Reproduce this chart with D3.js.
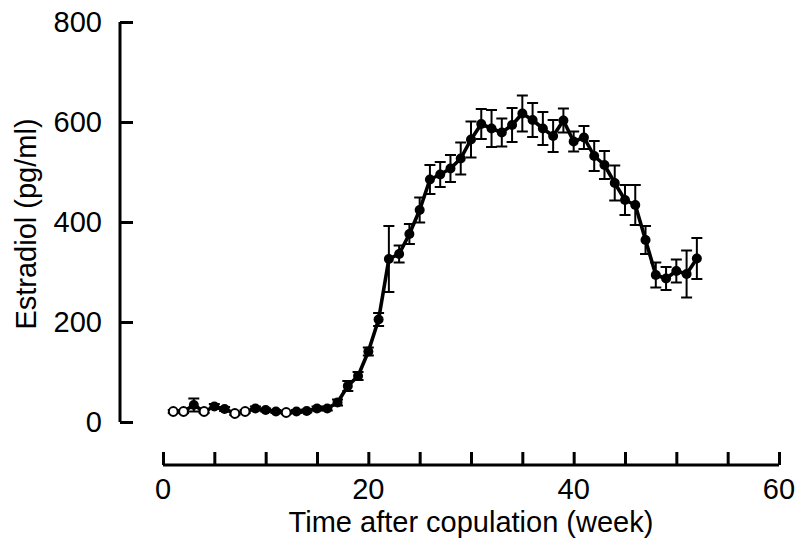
<!DOCTYPE html>
<html>
<head>
<meta charset="utf-8">
<script src="https://cdn.jsdelivr.net/npm/d3@7"></script>
<style>
  body { margin: 0; background: #fff; }
  text { font-family: "Liberation Sans", Arial, sans-serif; fill: #000; }
</style>
</head>
<body>
<div class="container"></div>
<script>
// weeks after copulation
var weeks = [1,2,3,4,5,6,7,8,9,10,11,12,13,14,15,16,17,18,19,20,21,22,23,24,25,26,
             27,28,29,30,31,32,33,34,35,36,37,38,39,40,41,42,43,44,45,46,47,48,49,50,51,52];
// estradiol mean (pg/ml)
var estradiol = [21,21,34,21,31,26,17,21,27,24,21,19,21,22,27,27,39,72,92,141,205,326,336,376,424,485,
                 495,507,527,565,596,587,579,594,617,604,587,572,603,561,569,532,514,478,444,434,364,294,287,302,296,327];
// error (half bar)
var errors = [3,3,13,3,5,4,3,3,4,3,3,3,3,3,4,4,6,10,8,8,13,66,17,20,25,29,
              25,27,32,36,30,37,28,34,36,34,33,32,24,20,23,30,28,35,30,40,28,25,23,23,47,41];
// weeks drawn as open circles
var openWeeks = [1,2,4,7,8,12];

var xTicks = [0,5,10,15,20,25,30,35,40,45,50,55,60];
var xLabels = [0,20,40,60];
var yTicks = [0,200,400,600,800];

const WIDTH = 804;
const HEIGHT = 549;

var data = weeks.map(function (w, i) {
    return {week: w, value: estradiol[i], err: errors[i], open: openWeeks.indexOf(w) >= 0};
});

var svg = d3.select('.container').append('svg')
    .attr('width', WIDTH)
    .attr('height', HEIGHT);

var xScale = d3.scaleLinear().domain([0, 60]).range([163, 779]);
var yScale = d3.scaleLinear().domain([0, 800]).range([422, 22]);

var AXIS_X = 120;   // y axis position
var AXIS_Y = 465;   // x axis position

// y axis
var yAxis = svg.append('g').attr('transform', 'translate(' + AXIS_X + ',0)')
    .call(d3.axisRight(yScale).tickValues(yTicks).tickSize(13).tickFormat(''));
yAxis.select('.domain').attr('d', 'M0,' + yScale(800) + 'V' + yScale(0))
    .attr('stroke', '#000').attr('stroke-width', 3);
yAxis.selectAll('.tick line').attr('stroke', '#000').attr('stroke-width', 3);

svg.selectAll('.ylab').data(yTicks).enter().append('text')
    .attr('class', 'ylab')
    .attr('x', 102)
    .attr('y', function (d) { return yScale(d); })
    .attr('dy', '0.36em')
    .attr('text-anchor', 'end')
    .style('font-size', '29px')
    .text(function (d) { return d; });

// x axis
var xAxis = svg.append('g').attr('transform', 'translate(0,' + AXIS_Y + ')')
    .call(d3.axisTop(xScale).tickValues(xTicks).tickSize(13).tickFormat(''));
xAxis.select('.domain').attr('d', 'M' + xScale(0) + ',0H' + xScale(60))
    .attr('stroke', '#000').attr('stroke-width', 3);
xAxis.selectAll('.tick line').attr('stroke', '#000').attr('stroke-width', 3);

svg.selectAll('.xlab').data(xLabels).enter().append('text')
    .attr('class', 'xlab')
    .attr('x', function (d) { return xScale(d); })
    .attr('y', 499)
    .attr('text-anchor', 'middle')
    .style('font-size', '29px')
    .text(function (d) { return d; });

svg.append('text')
    .attr('x', 471).attr('y', 532)
    .attr('text-anchor', 'middle')
    .style('font-size', '29px')
    .text('Time after copulation (week)');

svg.append('text')
    .attr('transform', 'translate(36,224) rotate(-90)')
    .attr('text-anchor', 'middle')
    .style('font-size', '29px')
    .text('Estradiol (pg/ml)');

// error bars
var eb = svg.append('g').selectAll('g').data(data).enter().append('g')
    .attr('stroke', '#000').attr('stroke-width', 2);
eb.append('line')
    .attr('x1', function (d) { return xScale(d.week); })
    .attr('x2', function (d) { return xScale(d.week); })
    .attr('y1', function (d) { return yScale(d.value - d.err); })
    .attr('y2', function (d) { return yScale(d.value + d.err); });
[1, -1].forEach(function (s) {
    eb.append('line')
        .attr('x1', function (d) { return xScale(d.week) - 5.5; })
        .attr('x2', function (d) { return xScale(d.week) + 5.5; })
        .attr('y1', function (d) { return yScale(d.value + s * d.err); })
        .attr('y2', function (d) { return yScale(d.value + s * d.err); });
});

// line
var line = d3.line()
    .x(function (d) { return xScale(d.week); })
    .y(function (d) { return yScale(d.value); });

svg.append('path')
    .attr('d', line(data))
    .attr('fill', 'none')
    .attr('stroke', '#000')
    .attr('stroke-width', 3.6)
    .attr('stroke-linejoin', 'round');

// points
svg.append('g').selectAll('circle').data(data).enter().append('circle')
    .attr('cx', function (d) { return xScale(d.week); })
    .attr('cy', function (d) { return yScale(d.value); })
    .attr('r', function (d) { return d.open ? 4.4 : 5; })
    .attr('fill', function (d) { return d.open ? '#fff' : '#000'; })
    .attr('stroke', '#000')
    .attr('stroke-width', function (d) { return d.open ? 2 : 0; });
</script>
</body>
</html>
